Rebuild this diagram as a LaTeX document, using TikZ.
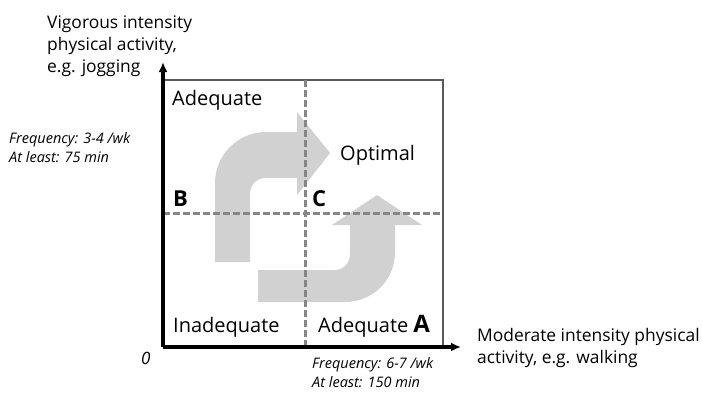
\documentclass[tikz,border=0pt]{standalone}
\usepackage{fontspec}
\setmainfont{Open Sans}
\usepackage{tikz}
\usetikzlibrary{arrows.meta}
\definecolor{arrowgray}{HTML}{D1D1D1}
\definecolor{dashgray}{HTML}{868686}
\definecolor{boxgray}{HTML}{5A5A5A}
\begin{document}
\begin{tikzpicture}[x=1pt,y=-1pt,
    axis/.style={line width=3.2pt,-{Latex[length=10pt,width=9pt]}},
    dashline/.style={dashgray,line width=3pt,dash pattern=on 6.5pt off 3.5pt},
    region/.style={font=\fontsize{20}{22}\selectfont,anchor=base west,inner sep=0pt},
    corner/.style={font=\bfseries\fontsize{22}{24}\selectfont,anchor=base west,inner sep=0pt},
    freq/.style={font=\itshape\fontsize{14.5}{19}\selectfont,align=left,anchor=base west,inner sep=0pt},
    axlabel/.style={font=\fontsize{17.4}{22}\selectfont,align=left,anchor=base west,inner sep=0pt}]
                \useasboundingbox (0,0) rectangle (702,394);
                % big grey arrows
                \fill [arrowgray] (215,262) -- (215,183) .. controls (215,155) and (238,132) .. (266,132) -- (297,132) -- (297,112) -- (330,153) -- (297,195) -- (297,178) -- (265,178) .. controls (257,178) and (250,185) .. (250,193) -- (250,262) -- cycle;
                \fill [arrowgray] (258,302) -- (345,302) .. controls (373,302) and (395,280) .. (395,252) -- (395,225) -- (422,225) -- (377,195) -- (332,225) -- (350,225) -- (350,255) .. controls (350,263) and (343,270) .. (335,270) -- (258,270) -- cycle;

                \coordinate (O) at (163,347);
                \coordinate (ytip) at (163,62);
                \coordinate (xtip) at (461,347);
                \coordinate (tl) at (163,80);
                \coordinate (tr) at (443,80);
                \coordinate (br) at (443,347);
                \draw [boxgray, line width=1.5pt] (tl) -- (tr) -- (br);
                \draw [dashline] (305,80) -- (305,347);
                \draw [dashline] (163,213) -- (443,213);
                \draw [axis] (O) -- (ytip);
                \draw [axis] (O) -- (xtip);

                \node [region] (adqtop) at (172,105) {Adequate};
                \node [region] (optimal) at (340,160) {Optimal};
                \node [region] (inadq) at (173,332) {Inadequate};
                \node [region] (adqright) at (318,332) {Adequate \textbf{\fontsize{24}{24}\selectfont A}};
                \node [corner] (B) at (173,206) {B};
                \node [corner] (C) at (312,206) {C};
                \node [freq, font=\itshape\fontsize{17}{18}\selectfont] (zero) at (141,364) {0};

                \node [axlabel] (ylab) at (47,72) {Vigorous intensity\\physical activity,\\e.g. jogging};
                \node [axlabel] (xlab) at (477,363) {Moderate intensity physical\\activity, e.g. walking};
                \node [freq] (yfreq) at (9,162) {Frequency: 3-4 /wk\\At least: 75 min};
                \node [freq] (xfreq) at (312,387) {Frequency: 6-7 /wk\\At least: 150 min};
            \end{tikzpicture}
\end{document}
